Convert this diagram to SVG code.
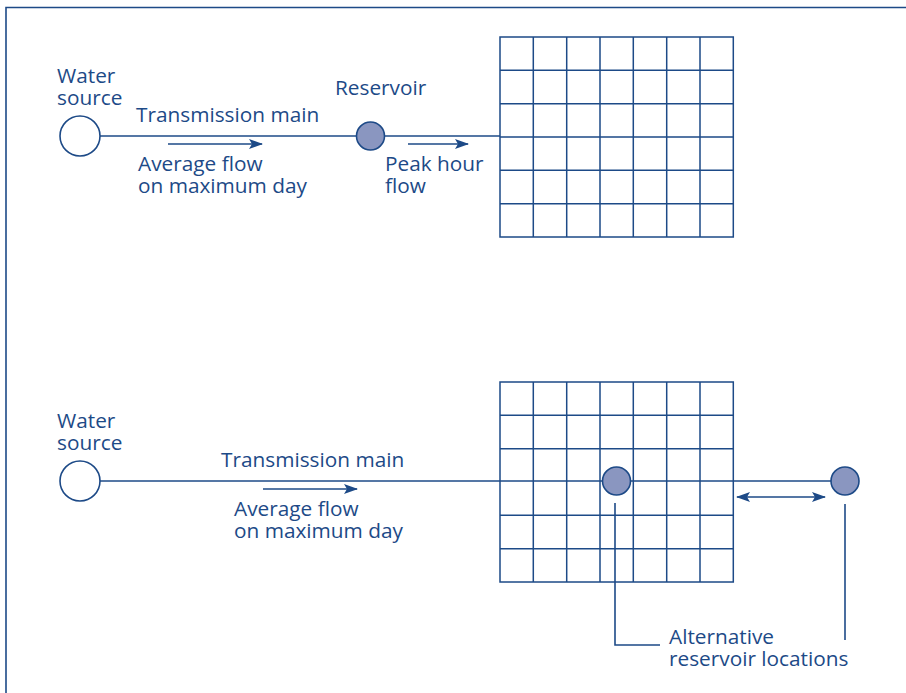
<svg xmlns="http://www.w3.org/2000/svg" width="906" height="693" viewBox="0 0 906 693">
<defs>
<style>
.ln{stroke:#1d4a87;stroke-width:1.6;fill:none}
.gr{stroke:#1d4a87;stroke-width:1.5;fill:none}
.src{fill:#fff;stroke:#1d4a87;stroke-width:1.6}
.res{fill:#8a96c0;stroke:#1d4a87;stroke-width:1.6}
.t{font-family:"Open Sans","Liberation Sans",sans-serif;font-size:20.8px;fill:#1d4a87}
</style>
<marker id="ah" viewBox="0 0 14 10" refX="13" refY="5" markerWidth="14" markerHeight="10" markerUnits="userSpaceOnUse" orient="auto-start-reverse">
<path d="M0,0 L14,5 L0,10 L3,5 z" fill="#1d4a87"/>
</marker>
</defs>
<rect width="906" height="693" fill="#fff"/>
<path class="ln" d="M6,693 V7.5 H906"/>

<g id="connectors">
<line class="ln" x1="100" y1="136" x2="356" y2="136"/>
<line class="ln" x1="384" y1="136" x2="500" y2="136"/>
<line class="ln" x1="168" y1="144" x2="262" y2="144" marker-end="url(#ah)"/>
<line class="ln" x1="408" y1="144" x2="468" y2="144" marker-end="url(#ah)"/>
<line class="ln" x1="100" y1="481" x2="831" y2="481"/>
<line class="ln" x1="263" y1="489" x2="357" y2="489" marker-end="url(#ah)"/>
<line class="ln" x1="737" y1="497" x2="825" y2="497" marker-start="url(#ah)" marker-end="url(#ah)"/>
<path class="ln" d="M615,503 V645 H660" stroke-width="1.3"/>
<line class="ln" x1="845" y1="504" x2="845" y2="640" stroke-width="1.3"/>
</g>

<g id="grid-top">
<rect class="gr" x="500" y="37" width="233.3" height="200" stroke-width="2"/>
<path class="gr" d="M533.3,37V237M566.7,37V237M600,37V237M633.3,37V237M666.7,37V237M700,37V237M500,70.3H733.3M500,103.7H733.3M500,137H733.3M500,170.3H733.3M500,203.7H733.3"/>
</g>
<g id="grid-bottom">
<rect class="gr" x="500" y="382" width="233.3" height="200" stroke-width="2"/>
<path class="gr" d="M533.3,382V582M566.7,382V582M600,382V582M633.3,382V582M666.7,382V582M700,382V582M500,415.3H733.3M500,448.7H733.3M500,515.3H733.3M500,548.7H733.3"/>
</g>

<g id="source-top">
<circle class="src" cx="80" cy="136" r="20"/>
<text class="t" x="57" y="83">Water</text>
<text class="t" x="57" y="105">source</text>
</g>
<g id="reservoir-top">
<circle class="res" cx="370.5" cy="136" r="14"/>
<text class="t" x="335" y="95">Reservoir</text>
</g>
<g id="labels-top">
<text class="t" x="136" y="122">Transmission main</text>
<text class="t" x="138" y="171">Average flow</text>
<text class="t" x="138" y="193">on maximum day</text>
<text class="t" x="385" y="171">Peak hour</text>
<text class="t" x="385" y="193">flow</text>
</g>

<g id="source-bottom">
<circle class="src" cx="80" cy="481" r="20"/>
<text class="t" x="57" y="428">Water</text>
<text class="t" x="57" y="450">source</text>
</g>
<g id="reservoir-in-grid">
<circle class="res" cx="616.5" cy="481" r="14"/>
</g>
<g id="reservoir-outside">
<circle class="res" cx="845" cy="481" r="14"/>
</g>
<g id="labels-bottom">
<text class="t" x="221" y="467">Transmission main</text>
<text class="t" x="234" y="516">Average flow</text>
<text class="t" x="234" y="538">on maximum day</text>
<text class="t" x="669" y="644">Alternative</text>
<text class="t" x="669" y="666">reservoir locations</text>
</g>
</svg>
